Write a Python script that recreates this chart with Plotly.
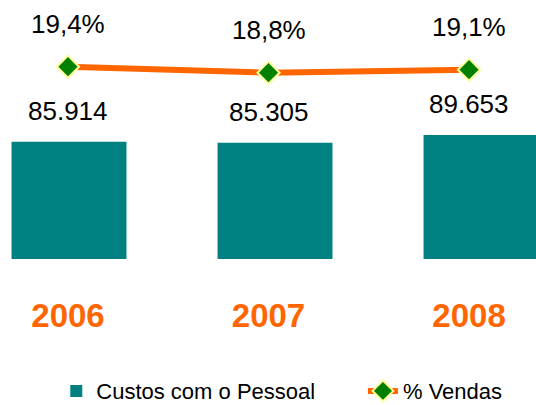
import plotly.graph_objects as go

years = ["2006", "2007", "2008"]
custos = [85.914, 85.305, 89.653]
custos_labels = ["85.914", "85.305", "89.653"]
pct_vendas = [19.4, 18.8, 19.1]
pct_labels = ["19,4%", "18,8%", "19,1%"]

FONT = "Liberation Sans, Arial, sans-serif"
TEAL = "#008080"
ORANGE = "#FF6600"

fig = go.Figure()

fig.add_trace(go.Bar(
    x=years, y=custos, name="Custos com o Pessoal" + "\u00a0" * 7,
    marker=dict(color=TEAL, line=dict(width=0)),
    width=0.558, xaxis="x2", yaxis="y2",
))

fig.add_trace(go.Scatter(
    x=years, y=pct_vendas, name="% Vendas", mode="lines+markers",
    line=dict(color=ORANGE, width=6),
    marker=dict(symbol="diamond", size=17, color="#008000",
                line=dict(color="#FFFF99", width=2)),
    xaxis="x", yaxis="y",
))

annotations = []
for i, (v, t) in enumerate(zip(custos, custos_labels)):
    annotations.append(dict(x=i, y=v, xref="x", yref="y2", text=t,
                            showarrow=False, yanchor="middle", yshift=31,
                            font=dict(family=FONT, size=26, color="black")))
for i, (v, t) in enumerate(zip(pct_vendas, pct_labels)):
    annotations.append(dict(x=i, y=v, xref="x", yref="y", text=t,
                            showarrow=False, yanchor="middle", yshift=43,
                            font=dict(family=FONT, size=26, color="black")))

fig.update_layout(
    width=536, height=405,
    margin=dict(l=0, r=0, t=0, b=146, autoexpand=False),
    paper_bgcolor="white", plot_bgcolor="white",
    font=dict(family=FONT, color="black"),
    showlegend=True,
    hovermode=False,
    legend=dict(orientation="h", x=0.105, xanchor="left", y=-0.51, yanchor="middle",
                font=dict(family=FONT, size=22, color="black"),
                traceorder="normal"),
    xaxis=dict(type="category", range=[-0.339, 2.334], showgrid=False, zeroline=False,
               showline=False, ticks="", ticklabelstandoff=34,
               tickfont=dict(family=FONT, size=33, color=ORANGE, weight="bold")),
    xaxis2=dict(type="category", range=[-0.335, 2.267], overlaying="x", visible=False),
    yaxis=dict(range=[0.17, 26.07], visible=False),
    yaxis2=dict(range=[20.45, 164.98], overlaying="y", visible=False),
    annotations=annotations,
)

fig.write_html("out.html", config={"displayModeBar": False},
               post_script="document.body.style.margin='0';")
